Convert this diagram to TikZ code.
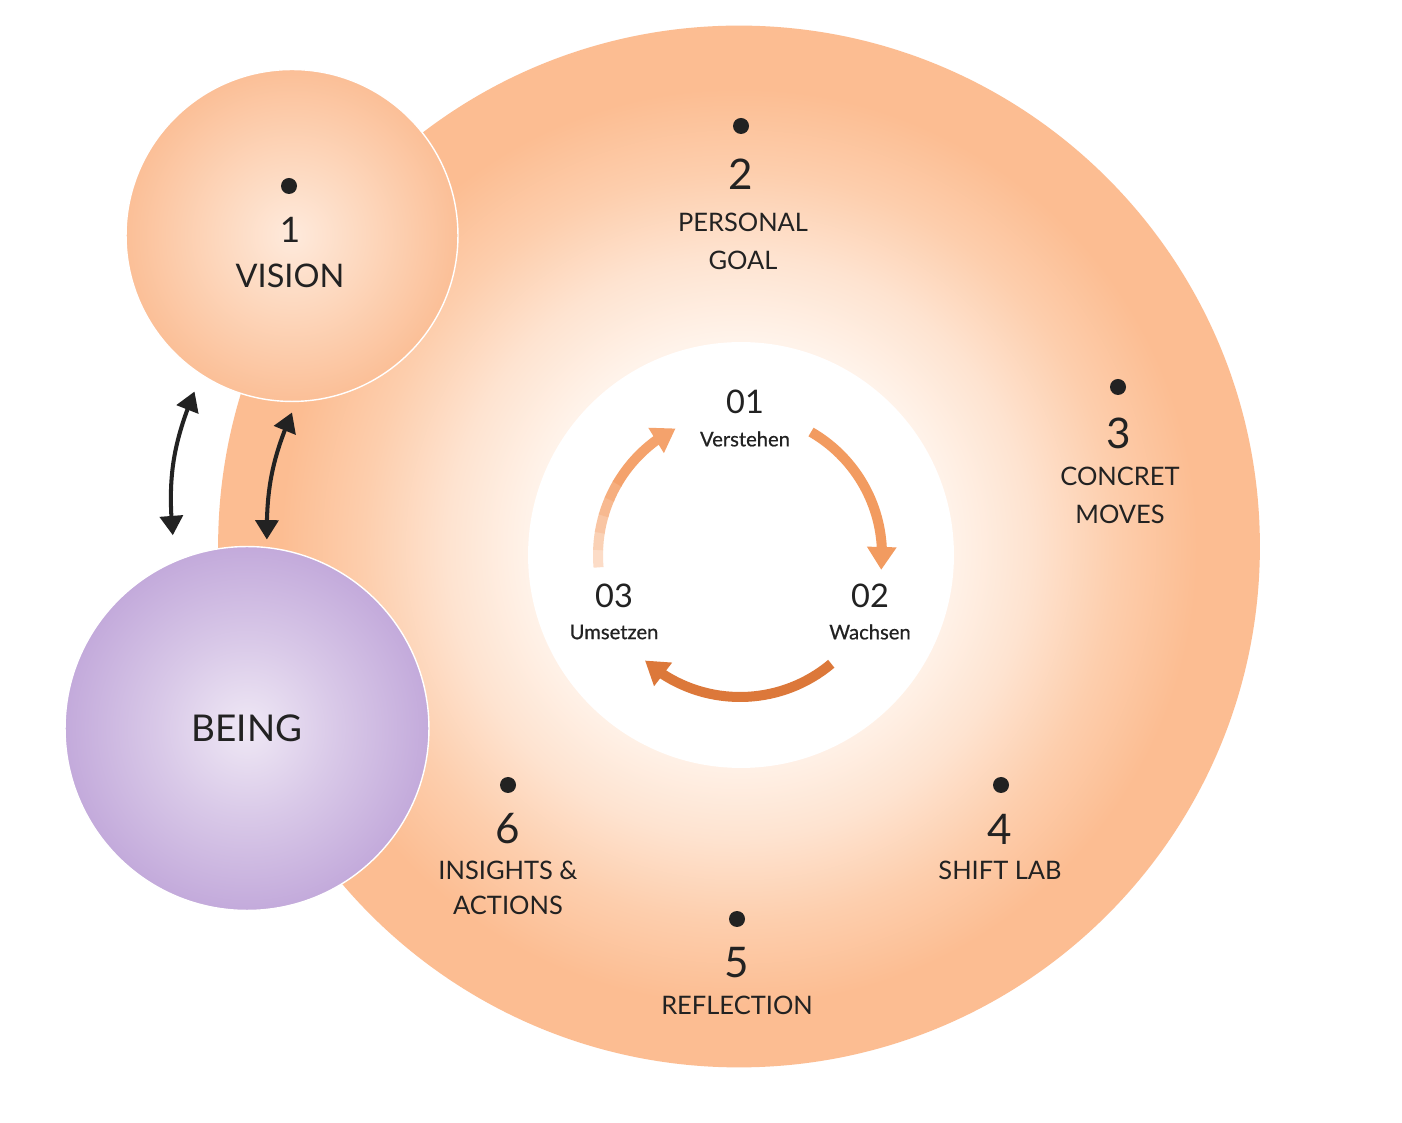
\documentclass[tikz,border=0pt]{standalone}
\usepackage{fontspec}
\setmainfont{Lato}
\usetikzlibrary{arrows.meta,bending}

\definecolor{ink}{HTML}{222222}
\definecolor{peach}{HTML}{FCBD92}
\definecolor{glowA}{HTML}{FFF3EA}
\definecolor{glowB}{HTML}{FEE3D0}
\definecolor{glowC}{HTML}{FDCEAD}
\definecolor{visionIn}{HTML}{FEEADC}
\definecolor{visionMid}{HTML}{FDD6BB}
\definecolor{visionOut}{HTML}{FBBF97}
\definecolor{beingIn}{HTML}{EFE8F5}
\definecolor{beingMid}{HTML}{D9C9E8}
\definecolor{beingOut}{HTML}{C3AADB}
\definecolor{arcA}{HTML}{F29B60}
\definecolor{arcB}{HTML}{DC783A}
\definecolor{arcC}{HTML}{F4A26C}
\definecolor{fadeC}{HTML}{FDE3D1}

\pgfdeclareradialshading{bigglow}{\pgfpoint{0bp}{0bp}}{%
  color(0bp)=(white); color(10bp)=(glowA); color(14bp)=(glowB);
  color(18bp)=(glowC); color(22bp)=(peach); color(25bp)=(peach);
  color(50bp)=(peach)}
\pgfdeclareradialshading{visionglow}{\pgfpoint{0bp}{0bp}}{%
  color(0bp)=(visionIn); color(12bp)=(visionMid); color(25bp)=(visionOut);
  color(50bp)=(visionOut)}
\pgfdeclareradialshading{beingglow}{\pgfpoint{0bp}{0bp}}{%
  color(0bp)=(beingIn); color(12bp)=(beingMid); color(25bp)=(beingOut);
  color(50bp)=(beingOut)}

\begin{document}
\begin{tikzpicture}[x=0.02cm,y=0.02cm]
\tikzset{stationdot/.style = {shape=circle,fill=ink,inner sep=0pt,minimum size=0.32cm}}
\tikzset{stationnum/.style = {text=ink,inner sep=0pt,font=\fontsize{24}{28}\selectfont}}
\tikzset{stationname/.style = {text=ink,inner sep=0pt,align=center,font=\fontsize{14.5}{21.5}\selectfont}}
\tikzset{cyclenum/.style = {text=ink,inner sep=0pt,font=\fontsize{18.5}{22}\selectfont}}
\tikzset{cyclename/.style = {text=ink,inner sep=0pt,font=\fontsize{11.5}{13}\selectfont\addfontfeature{FakeBold=0.6}}}
\tikzset{cyclearrow/.style = {line width=5.7pt,-{Triangle[length=13pt,width=16pt]}}}
\tikzset{linkarrow/.style = {draw=ink,line width=2.3pt,{Triangle[length=11pt,width=13pt]}-{Triangle[length=11pt,width=13pt]}}}
\fill[white] (0,0) rectangle (1402,1122);
\useasboundingbox (0,0) rectangle (1402,1122);
% circles
\node[circle,inner sep=0pt,minimum size=20.84cm,shade,shading=bigglow] (wheel) at (739,575.5) {};
\node[circle,inner sep=0pt,minimum size=8.52cm,fill=white] (core) at (741,567) {};
\node[circle,inner sep=0pt,minimum size=6.64cm,shade,shading=visionglow,draw=white,line width=0.8pt] (vision) at (292,886.5) {};
\node[circle,inner sep=0pt,minimum size=7.28cm,shade,shading=beingglow,draw=white,line width=0.8pt,
  text=ink,font=\fontsize{21}{25}\selectfont] (being) at (247,393.5) {BEING};
% stations
\node[stationdot] (d1) at (289,936) {};
\node[stationnum,font=\fontsize{20}{24}\selectfont] (n1) at (290,892) {1};
\node[stationname,font=\fontsize{18.5}{22}\selectfont] (t1) at (290,846) {VISION};
\node[stationdot] (d2) at (741,996) {};
\node[stationnum] (n2) at (741,948) {2};
\node[stationname] (t2) at (743,880.5) {PERSONAL\\GOAL};
\node[stationdot] (d3) at (1118,735) {};
\node[stationnum] (n3) at (1119,689) {3};
\node[stationname] (t3) at (1120,627) {CONCRET\\MOVES};
\node[stationdot] (d4) at (1001,337) {};
\node[stationnum] (n4) at (1000,293) {4};
\node[stationname] (t4) at (1000,252) {SHIFT LAB};
\node[stationdot] (d5) at (737,203) {};
\node[stationnum] (n5) at (737,159) {5};
\node[stationname] (t5) at (737,117) {REFLECTION};
\node[stationdot] (d6) at (508,337) {};
\node[stationnum] (n6) at (508,293) {6};
\node[stationname,font=\fontsize{14.5}{20}\selectfont] (t6) at (508,234.5) {INSIGHTS \&\\ACTIONS};
% cycle
\coordinate (cyc) at (740,567);
\node[cyclenum] (c1) at (745,720) {01};
\node[cyclename] (l1) at (745,683) {Verstehen};
\node[cyclenum] (c2) at (870,526) {02};
\node[cyclename] (l2) at (870,490) {Wachsen};
\node[cyclenum] (c3) at (614,526) {03};
\node[cyclename] (l3) at (614,490) {Umsetzen};
\draw[cyclearrow,draw=arcA] (cyc) ++(60:142) arc[start angle=60,end angle=-6,radius=142];
\draw[cyclearrow,draw=arcB] (cyc) ++(-50:142) arc[start angle=-50,end angle=-132,radius=142];
\foreach \a/\p in {185/10,178/28,171/46,164/64,157/82}
  \draw[line width=5.7pt,draw=arcC!\p!fadeC] (cyc) ++(\a:142) arc[start angle=\a,end angle=\a-7.5,radius=142];
\draw[cyclearrow,draw=arcC] (cyc) ++(150:142) arc[start angle=150,end angle=117,radius=142];
% links between vision and being
\path (vision.center) ++(238:184) coordinate (vl);
\path (being.center) ++(111:207) coordinate (bl);
\path (vision.center) ++(270:177) coordinate (vr);
\path (being.center) ++(84:190) coordinate (br);
\draw[linkarrow] (bl) to[bend left=14] (vl);
\draw[linkarrow] (br) to[bend left=12] (vr);
\end{tikzpicture}
\end{document}
